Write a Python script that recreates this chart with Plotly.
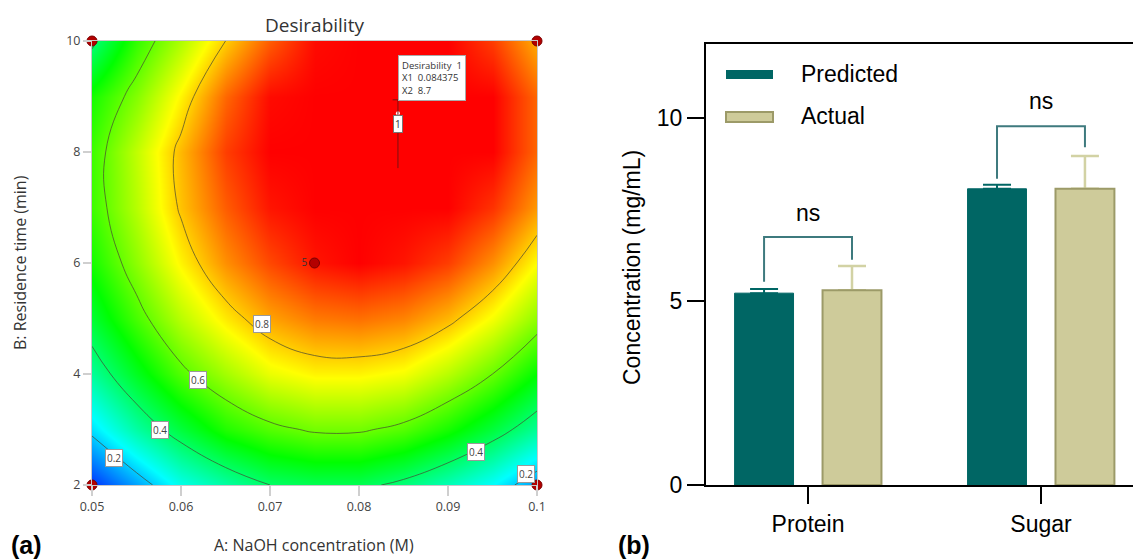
import plotly.graph_objects as go

W, H = 1133, 559

# ---------------- Panel (a): desirability surface ----------------
naoh_x = [0.05, 0.055, 0.06, 0.065, 0.07, 0.075, 0.08, 0.085, 0.09, 0.095, 0.1]
time_y = [2, 3, 4, 5, 6, 7, 8, 9, 10]
desirability = [
    [0.05, 0.16, 0.27, 0.34, 0.40, 0.42, 0.42, 0.38, 0.32, 0.25, 0.15],
    [0.22, 0.34, 0.44, 0.53, 0.58, 0.61, 0.61, 0.58, 0.52, 0.44, 0.35],
    [0.35, 0.47, 0.58, 0.66, 0.73, 0.76, 0.76, 0.74, 0.68, 0.60, 0.50],
    [0.45, 0.57, 0.68, 0.77, 0.84, 0.88, 0.89, 0.87, 0.82, 0.74, 0.64],
    [0.52, 0.64, 0.76, 0.86, 0.93, 0.98, 1.00, 0.98, 0.94, 0.86, 0.75],
    [0.56, 0.68, 0.81, 0.91, 0.98, 1.00, 1.00, 1.00, 1.00, 0.95, 0.85],
    [0.56, 0.69, 0.82, 0.94, 1.00, 1.00, 1.00, 1.00, 1.00, 1.00, 0.90],
    [0.52, 0.63, 0.76, 0.90, 0.99, 1.00, 1.00, 1.00, 1.00, 1.00, 0.90],
    [0.38, 0.55, 0.67, 0.80, 0.91, 0.99, 1.00, 1.00, 1.00, 0.94, 0.83],
]
x_ticks = [0.05, 0.06, 0.07, 0.08, 0.09, 0.1]
x_ticktext = ["0.05", "0.06", "0.07", "0.08", "0.09", "0.1"]
y_ticks = [2, 4, 6, 8, 10]

design_x = [0.05, 0.05, 0.1, 0.1, 0.075]
design_y = [2, 10, 2, 10, 6]
design_text = ["", "", "", "", "5"]

label_x = [0.0525, 0.0576, 0.0619, 0.0691, 0.0931, 0.0988]
label_y = [2.49, 2.99, 3.89, 4.90, 2.59, 2.20]
label_text = ["0.2", "0.4", "0.6", "0.8", "0.4", "0.2"]

opt_x, opt_y, opt_d = 0.084375, 8.7, 1

# ---------------- Panel (b): bar chart ----------------
categories = ["Protein", "Sugar"]
predicted = [5.22, 8.06]
predicted_err = [0.11, 0.11]
actual = [5.30, 8.06]
actual_err = [0.66, 0.89]
bracket_top = [6.75, 9.76]
bracket_left = [5.53, 8.33]
bracket_right = [6.13, 9.19]
sig_text = ["ns", "ns"]
sig_y = [7.41, 10.44]
y2_ticks = [0, 5, 10]

teal = "#006664"
khaki = "#CECB9A"
khaki_line = "#9C9A68"
khaki_err = "#D2D2A4"
bracket_col = "#3E7A7E"

def px(x):
    return x / W

def py(y):
    return 1 - y / H

cat_pos = list(range(len(categories)))

fig = go.Figure()

cs = [[0, "#0000ff"], [0.25, "#00ffff"], [0.5, "#00ff00"], [0.75, "#ffff00"], [1, "#ff0000"]]
fig.add_trace(go.Contour(
    x=naoh_x, y=time_y, z=desirability, colorscale=cs, zmin=0, zmax=1,
    contours=dict(start=0.2, end=0.8, size=0.2, coloring="heatmap"),
    line=dict(smoothing=1.3, color="rgba(70,70,50,0.7)", width=1),
    showscale=False, hoverinfo="skip", xaxis="x", yaxis="y"))

shapes = [
    dict(type="line", xref="x", yref="y", x0=opt_x, x1=opt_x, y0=opt_y + 0.24, y1=opt_y - 0.99,
         line=dict(color="#7a1010", width=1)),
    dict(type="line", xref="x", yref="y", x0=opt_x - 0.0006, x1=opt_x, y0=opt_y + 0.24, y1=opt_y + 0.24,
         line=dict(color="#7a1010", width=1)),
]
fig.add_trace(go.Scatter(x=[opt_x], y=[opt_y], mode="markers", marker=dict(color="white", size=4),
                         hoverinfo="skip", showlegend=False, xaxis="x", yaxis="y"))

fig.add_trace(go.Scatter(
    x=design_x, y=design_y, mode="markers+text", text=design_text, textposition="middle left",
    textfont=dict(family="Open Sans", size=10, color="#333"),
    marker=dict(color="#b30000", size=10, line=dict(color="#7a0000", width=1)),
    cliponaxis=False, hoverinfo="skip", showlegend=False, xaxis="x", yaxis="y"))

annotations = []
for lx, ly, lt in zip(label_x, label_y, label_text):
    annotations.append(dict(x=lx, y=ly, xref="x", yref="y", text=lt, showarrow=False,
                            xanchor="center", yanchor="middle",
                            font=dict(family="Open Sans", size=10, color="#444"),
                            bgcolor="white", bordercolor="#999", borderwidth=1, borderpad=1))
annotations.append(dict(x=opt_x, y=opt_y - 0.2, xref="x", yref="y", text=str(opt_d), showarrow=False,
                        xanchor="center", yanchor="middle",
                        font=dict(family="Open Sans", size=10, color="#333"),
                        bgcolor="white", bordercolor="#777", borderwidth=1, borderpad=1))
annotations.append(dict(x=opt_x, y=9.74, xref="x", yref="y", xanchor="left", yanchor="top",
                        text=f"Desirability  {opt_d}<br>X1  {opt_x}<br>X2  {opt_y}", align="left",
                        showarrow=False, font=dict(family="Open Sans", size=9.5, color="#333"),
                        bgcolor="white", bordercolor="#aaa", borderwidth=1, borderpad=3))

def paper_text(x, y, text, size, family, color="black", angle=0, xanchor="center"):
    return dict(x=px(x), y=py(y), xref="paper", yref="paper", text=text, showarrow=False,
                xanchor=xanchor, yanchor="middle", textangle=angle,
                font=dict(family=family, size=size, color=color))

annotations += [
    paper_text(314, 25, "Desirability", 19, "Open Sans", "#333"),
    paper_text(314, 545, "A: NaOH concentration (M)", 16, "Open Sans", "#333"),
    paper_text(20, 263, "B: Residence time (min)", 16, "Open Sans", "#333", angle=-90),
    paper_text(26, 545, "<b>(a)</b>", 25, "Liberation Sans, Arial"),
    paper_text(634, 545, "<b>(b)</b>", 25, "Liberation Sans, Arial"),
    paper_text(632, 268, "Concentration (mg/mL)", 23, "Liberation Sans, Arial", angle=-90),
]

# bars: error-only helper traces drawn first, real bars on top
bargap, bargroupgap = 0.245, 0.33
fig.add_trace(go.Bar(x=cat_pos, y=predicted, offsetgroup="p", marker=dict(color="rgba(0,0,0,0)"),
                     error_y=dict(type="data", array=predicted_err, arrayminus=[0, 0], symmetric=False,
                                  color=teal, thickness=2, width=14),
                     hoverinfo="skip", showlegend=False, xaxis="x2", yaxis="y2"))
fig.add_trace(go.Bar(x=cat_pos, y=actual, offsetgroup="a", marker=dict(color="rgba(0,0,0,0)"),
                     error_y=dict(type="data", array=actual_err, arrayminus=[0, 0], symmetric=False,
                                  color=khaki_err, thickness=2.5, width=14),
                     hoverinfo="skip", showlegend=False, xaxis="x2", yaxis="y2"))
fig.add_trace(go.Bar(x=cat_pos, y=predicted, name="Predicted", offsetgroup="p",
                     marker=dict(color=teal, line=dict(color=teal, width=1)),
                     showlegend=False, xaxis="x2", yaxis="y2"))
fig.add_trace(go.Bar(x=cat_pos, y=actual, name="Actual", offsetgroup="a",
                     marker=dict(color=khaki, line=dict(color=khaki_line, width=2)),
                     showlegend=False, xaxis="x2", yaxis="y2"))

slot = (1 - bargap) / 2
off = slot / 2
for i in cat_pos:
    fig.add_trace(go.Scatter(
        x=[i - off, i - off, i + off, i + off],
        y=[bracket_left[i], bracket_top[i], bracket_top[i], bracket_right[i]],
        mode="lines", line=dict(color=bracket_col, width=2), hoverinfo="skip", showlegend=False,
        xaxis="x2", yaxis="y2"))
    annotations.append(dict(x=i, y=sig_y[i], xref="x2", yref="y2", text=sig_text[i], showarrow=False,
                            xanchor="center", yanchor="middle",
                            font=dict(family="Liberation Sans, Arial", size=23, color="black")))

# custom legend
legend_items = [("Predicted", teal, teal, 70, 79), ("Actual", khaki, khaki_line, 112, 122)]
for name, fillc, linec, y0, y1 in legend_items:
    shapes.append(dict(type="rect", xref="paper", yref="paper", x0=px(726), x1=px(773), y0=py(y1), y1=py(y0),
                       fillcolor=fillc, line=dict(color=linec, width=2 if fillc != linec else 0)))
    annotations.append(paper_text(799, (y0 + y1) / 2 - 1, name, 23, "Liberation Sans, Arial", xanchor="left"))

fig.update_layout(
    width=W, height=H, margin=dict(l=0, r=0, t=0, b=0, autoexpand=False),
    paper_bgcolor="white", plot_bgcolor="white", showlegend=False,
    barmode="group", bargap=bargap, bargroupgap=bargroupgap,
    xaxis=dict(domain=[px(92), px(537)], range=[0.05, 0.1], tickvals=x_ticks, ticktext=x_ticktext,
               showgrid=False, zeroline=False, showline=True, linecolor="#c8c8c8", linewidth=1, mirror=True,
               ticks="outside", ticklen=10, tickwidth=2, tickcolor="#cfcfcf", automargin=False,
               tickfont=dict(family="Open Sans", size=12.5, color="#444"), anchor="y"),
    yaxis=dict(domain=[1 - 485 / H, 1 - 41 / H], range=[2, 10], tickvals=y_ticks,
               showgrid=False, zeroline=False, showline=True, linecolor="#c8c8c8", linewidth=1, mirror=True,
               ticks="outside", ticklen=8, tickwidth=2, tickcolor="#cfcfcf", automargin=False,
               tickfont=dict(family="Open Sans", size=12.5, color="#444"), anchor="x"),
    xaxis2=dict(domain=[px(706), 1.0], range=[-0.438, 1.395], tickvals=cat_pos, ticktext=categories,
                showgrid=False, zeroline=False, showline=True, linecolor="black", linewidth=2, mirror=True,
                ticks="outside", ticklen=17, tickwidth=2, tickcolor="black", automargin=False,
                tickfont=dict(family="Liberation Sans, Arial", size=23, color="black"), anchor="y2"),
    yaxis2=dict(domain=[1 - 485 / H, 1 - 44 / H], range=[0, 12], tickvals=y2_ticks,
                showgrid=False, zeroline=False, showline=True, linecolor="black", linewidth=2,
                ticks="outside", ticklen=17, tickwidth=2, tickcolor="black", automargin=False,
                tickfont=dict(family="Liberation Sans, Arial", size=23, color="black"), anchor="x2"),
    shapes=shapes, annotations=annotations,
)

fig.write_html("out.html", config={"displayModeBar": False},
               post_script="document.body.style.margin='0';document.body.style.overflow='hidden';")
